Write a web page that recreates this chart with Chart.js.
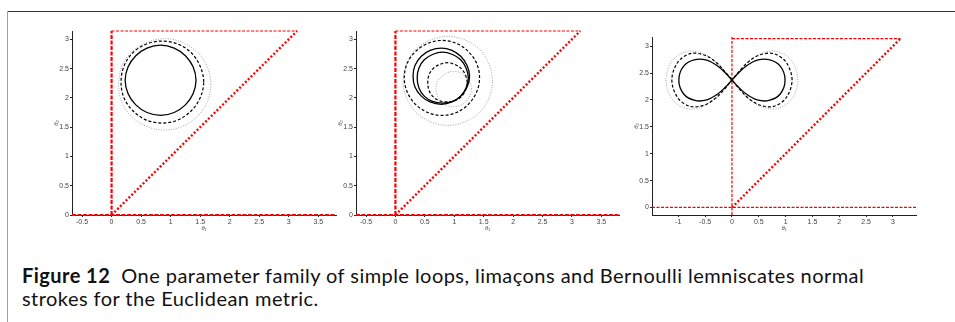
<!DOCTYPE html>
<html>
<head>
<meta charset="utf-8">
<script src="https://cdn.jsdelivr.net/npm/chart.js@4.4.1/dist/chart.umd.min.js"></script>
<style>
  body { margin: 0; background: #fff; width: 955px; height: 322px; overflow: hidden; position: relative; }
  .frame-top { position: absolute; left: 7px; top: 11px; width: 948px; height: 1px; background: #1f3a60; }
  .frame-left { position: absolute; left: 7px; top: 11px; width: 1px; height: 311px; background: #8ea3bf; }
  canvas { position: absolute; }
  #caption { position: absolute; left: 22px; top: 264px; font-family: Lato, sans-serif; font-size: 20px; letter-spacing: 0.45px; line-height: 23px; color: #111; white-space: nowrap; }
  #caption b { font-weight: 700; }
</style>
</head>
<body>
<div class="frame-top"></div>
<div class="frame-left"></div>
<canvas id="panel1" width="288" height="207" style="left:53px;top:25px"></canvas>
<canvas id="panel2" width="287" height="207" style="left:337px;top:25px"></canvas>
<canvas id="panel3" width="288" height="207" style="left:633px;top:25px"></canvas>
<div id="caption"><b>Figure 12</b>&nbsp; One parameter family of simple loops, limaçons and Bernoulli lemniscates normal<br>strokes for the Euclidean metric.</div>

<script>
// axis ranges and tick labels
const PI = 3.1416;
const rangeX12 = [-0.67, 3.8];
const rangeY12 = [0, PI];
const rangeX3 = [-1.49, 3.43];
const rangeY3 = [-0.14, 3.17];
const ticksX12 = [-0.5, 0, 0.5, 1, 1.5, 2, 2.5, 3, 3.5];
const ticksX3 = [-1, -0.5, 0, 0.5, 1, 1.5, 2, 2.5, 3];
const ticksY = [0, 0.5, 1, 1.5, 2, 2.5, 3];

// admissible region (red lines)
const vertLine12 = [[0, 0], [0, PI]];
const baseLine12 = [[-0.67, 0], [3.8, 0]];
const vertLine3 = [[0, -0.14], [0, 3.17]];
const baseLine3 = [[-1.49, 0], [3.43, 0]];
const topLine = [[0, PI], [PI, PI]];
const diagLine = [[0, 0], [PI, PI]];

// panel 1: simple loops
const loopSolid = [[1.43, 2.30], [1.38, 2.53], [1.25, 2.72], [1.06, 2.85], [0.83, 2.90], [0.60, 2.85], [0.41, 2.72], [0.28, 2.53],
  [0.23, 2.30], [0.28, 2.07], [0.41, 1.88], [0.60, 1.75], [0.83, 1.70], [1.06, 1.75], [1.25, 1.88], [1.38, 2.07]];
const loopDashed = [[1.56, 2.27], [1.50, 2.54], [1.35, 2.77], [1.12, 2.92], [0.86, 2.97], [0.59, 2.92], [0.36, 2.77], [0.21, 2.54],
  [0.16, 2.27], [0.21, 2.00], [0.36, 1.78], [0.59, 1.62], [0.86, 1.57], [1.12, 1.62], [1.35, 1.78], [1.50, 2.00]];
const loopDotted = [[1.68, 2.23], [1.62, 2.53], [1.45, 2.78], [1.19, 2.95], [0.90, 3.01], [0.60, 2.95], [0.34, 2.78], [0.17, 2.53],
  [0.12, 2.23], [0.17, 1.93], [0.34, 1.68], [0.60, 1.51], [0.90, 1.45], [1.19, 1.51], [1.45, 1.68], [1.62, 1.93]];

// panel 2: limacons (outer and inner loops)
const limSolidOut = [[1.26, 2.37], [1.22, 2.55], [1.11, 2.71], [0.96, 2.81], [0.78, 2.85], [0.59, 2.81], [0.44, 2.71], [0.33, 2.55],
  [0.30, 2.37], [0.33, 2.19], [0.44, 2.03], [0.59, 1.93], [0.78, 1.89], [0.96, 1.93], [1.11, 2.03], [1.22, 2.19]];
const limSolidIn = [[1.24, 2.34], [1.20, 2.51], [1.11, 2.65], [0.97, 2.74], [0.80, 2.78], [0.63, 2.74], [0.49, 2.65], [0.40, 2.51],
  [0.37, 2.34], [0.40, 2.17], [0.49, 2.03], [0.63, 1.94], [0.80, 1.91], [0.97, 1.94], [1.11, 2.03], [1.20, 2.17]];
const limDashedOut = [[1.43, 2.34], [1.38, 2.59], [1.24, 2.79], [1.04, 2.93], [0.79, 2.98], [0.55, 2.93], [0.34, 2.79], [0.20, 2.59],
  [0.15, 2.34], [0.20, 2.10], [0.34, 1.89], [0.55, 1.75], [0.79, 1.70], [1.04, 1.75], [1.24, 1.89], [1.38, 2.10]];
const limDashedIn = [[1.22, 2.26], [1.19, 2.39], [1.12, 2.50], [1.01, 2.57], [0.88, 2.60], [0.75, 2.57], [0.64, 2.50], [0.57, 2.39],
  [0.55, 2.26], [0.57, 2.13], [0.64, 2.02], [0.75, 1.95], [0.88, 1.93], [1.01, 1.95], [1.12, 2.02], [1.19, 2.13]];
const limDottedOut = [[1.65, 2.29], [1.59, 2.58], [1.43, 2.83], [1.18, 2.99], [0.89, 3.05], [0.60, 2.99], [0.35, 2.83], [0.19, 2.58],
  [0.13, 2.29], [0.19, 2.00], [0.35, 1.75], [0.60, 1.59], [0.89, 1.53], [1.18, 1.59], [1.43, 1.75], [1.59, 2.00]];
const limDottedIn = [[1.29, 2.15], [1.27, 2.27], [1.20, 2.36], [1.11, 2.43], [0.99, 2.45], [0.88, 2.43], [0.78, 2.36], [0.71, 2.27],
  [0.69, 2.15], [0.71, 2.04], [0.78, 1.94], [0.88, 1.87], [0.99, 1.85], [1.11, 1.87], [1.20, 1.94], [1.27, 2.04]];

// panel 3: Bernoulli lemniscates
const lemSolid = [[0.99, 2.37], [0.90, 2.63], [0.69, 2.75], [0.47, 2.74], [0.28, 2.64], [0.13, 2.51], [0, 2.37], [-0.13, 2.23],
  [-0.28, 2.10], [-0.47, 2.00], [-0.69, 1.99], [-0.90, 2.11], [-0.99, 2.37], [-0.90, 2.63], [-0.69, 2.75], [-0.47, 2.74],
  [-0.28, 2.64], [-0.13, 2.51], [0, 2.37], [0.13, 2.23], [0.28, 2.10], [0.47, 2.00], [0.69, 1.99], [0.90, 2.11]];
const lemDashed = [[1.12, 2.37], [1.01, 2.70], [0.78, 2.86], [0.53, 2.84], [0.32, 2.72], [0.15, 2.55], [0, 2.37], [-0.15, 2.19],
  [-0.32, 2.02], [-0.53, 1.90], [-0.78, 1.88], [-1.01, 2.04], [-1.12, 2.37], [-1.01, 2.70], [-0.78, 2.86], [-0.53, 2.84],
  [-0.32, 2.72], [-0.15, 2.55], [0, 2.37], [0.15, 2.19], [0.32, 2.02], [0.53, 1.90], [0.78, 1.88], [1.01, 2.04]];
const lemDotted = [[1.23, 2.37], [1.11, 2.73], [0.85, 2.90], [0.58, 2.88], [0.35, 2.75], [0.16, 2.57], [0, 2.37], [-0.16, 2.17],
  [-0.35, 1.99], [-0.58, 1.86], [-0.85, 1.84], [-1.11, 2.01], [-1.23, 2.37], [-1.11, 2.73], [-0.85, 2.90], [-0.58, 2.88],
  [-0.35, 2.75], [-0.16, 2.57], [0, 2.37], [0.16, 2.17], [0.35, 1.99], [0.58, 1.86], [0.85, 1.84], [1.11, 2.01]];

// line styles
const solid = { borderColor: "#000", borderWidth: 1.3 };
const dashed = { borderColor: "#000", borderWidth: 1.2, borderDash: [3, 2] };
const dotted = { borderColor: "#a3a3a3", borderWidth: 1, borderDash: [1, 1.5] };
const redThick = { borderColor: "#ff0000", borderWidth: 2.2, borderDash: [4, 1.5] };
const redThin = { borderColor: "#ff0000", borderWidth: 1.2, borderDash: [3, 1.5] };
const redDots = { borderColor: "#ff0000", borderWidth: 2.4, borderDash: [2, 2] };

// closed curve: wrap one point on each side so the spline closes smoothly, hide the wrap segments
function closedCurve(pts, style) {
  const n = pts.length;
  const seq = [pts[n - 1]].concat(pts, [pts[0], pts[1]]);
  return Object.assign({
    data: seq.map(p => ({ x: p[0], y: p[1] })),
    showLine: true, pointRadius: 0, tension: 0.34, fill: false,
    segment: {
      borderColor: ctx => (ctx.p0DataIndex === 0 || ctx.p0DataIndex === n + 1) ? "rgba(0,0,0,0)" : undefined
    }
  }, style);
}

function straight(pts, style) {
  return Object.assign({
    data: pts.map(p => ({ x: p[0], y: p[1] })),
    showLine: true, pointRadius: 0, tension: 0, fill: false, clip: false
  }, style);
}

function axis(range, ticks, title, horizontal) {
  return {
    type: "linear",
    min: range[0],
    max: range[1],
    afterBuildTicks: s => { s.ticks = ticks.map(v => ({ value: v })); },
    afterFit: s => { if (horizontal) s.height = 17; else s.width = 19; },
    border: { color: "#222", width: 1 },
    grid: { drawOnChartArea: false, tickLength: 2, color: "#222" },
    ticks: {
      autoSkip: false, maxRotation: 0, padding: 1,
      color: "#444", font: { family: "Liberation Sans", size: 7 },
      callback: v => String(v)
    },
    title: {
      display: true, text: title, padding: 0,
      color: "#555", font: { family: "Liberation Sans", size: 6, style: "italic" }
    }
  };
}

function makePanel(id, rangeX, rangeY, ticksX, padTop, datasets) {
  return new Chart(document.getElementById(id), {
    type: "scatter",
    data: { datasets: datasets },
    options: {
      responsive: false,
      animation: false,
      devicePixelRatio: 1,
      layout: { padding: { top: padTop, right: 5, bottom: 0, left: 0 } },
      plugins: { legend: { display: false }, tooltip: { enabled: false } },
      scales: {
        x: axis(rangeX, ticksX, "θ₁", true),
        y: axis(rangeY, ticksY, "θ₂", false)
      }
    }
  });
}

makePanel("panel1", rangeX12, rangeY12, ticksX12, 6, [
  closedCurve(loopSolid, solid),
  closedCurve(loopDashed, dashed),
  closedCurve(loopDotted, dotted),
  straight(topLine, redThin),
  straight(diagLine, redDots),
  straight(vertLine12, redThick),
  straight(baseLine12, redThick)
]);

makePanel("panel2", rangeX12, rangeY12, ticksX12, 6, [
  closedCurve(limSolidOut, solid),
  closedCurve(limSolidIn, solid),
  closedCurve(limDashedOut, dashed),
  closedCurve(limDashedIn, dashed),
  closedCurve(limDottedOut, dotted),
  closedCurve(limDottedIn, dotted),
  straight(topLine, redThin),
  straight(diagLine, redDots),
  straight(vertLine12, redThick),
  straight(baseLine12, redThick)
]);

makePanel("panel3", rangeX3, rangeY3, ticksX3, 12, [
  closedCurve(lemSolid, solid),
  closedCurve(lemDashed, dashed),
  closedCurve(lemDotted, dotted),
  straight(topLine, redThin),
  straight(diagLine, redDots),
  straight(vertLine3, redThin),
  straight(baseLine3, redThin)
]);
</script>
</body>
</html>
